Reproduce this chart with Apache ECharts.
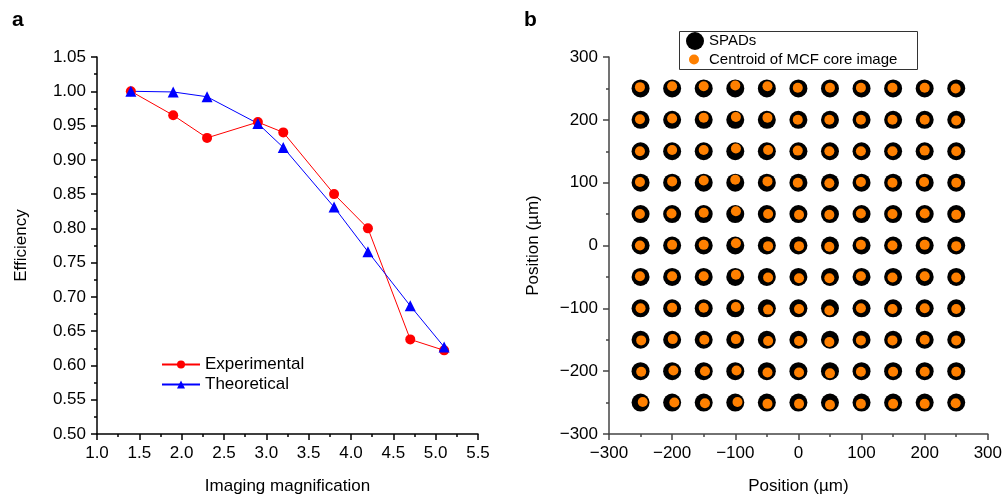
<!DOCTYPE html>
<html style="height: 100%">
<head>
  <meta charset="utf-8" />
  <title>Efficiency and SPAD alignment</title>
  <script src="https://cdn.jsdelivr.net/npm/echarts@6.0.0/dist/echarts.min.js"></script>
</head>
<body style="height: 100%; margin: 0; background: #fff">
  <div id="chart" style="width: 1005px; height: 500px"></div>
  <script>
    // panel a
    const magnification = [1.4, 1.9, 2.3, 2.9, 3.2, 3.8, 4.2, 4.7, 5.1];
    const experimental = [1.0, 0.965, 0.932, 0.955, 0.94, 0.85, 0.80, 0.638, 0.622];
    const theoretical = [1.0, 0.999, 0.992, 0.953, 0.918, 0.831, 0.766, 0.687, 0.627];

    // panel b: SPAD positions (um) and centroid offsets (um), rows top (250) to bottom (-250)
    const spadX = [-250, -200, -150, -100, -50, 0, 50, 100, 150, 200, 250];
    const spadY = [250, 200, 150, 100, 50, 0, -50, -100, -150, -200, -250];
    const offX = [
      [-1, 0, 0, 0, 1, -1, 0, -1, -1, 0, -1],
      [-1, 0, 0, 1, 1, -1, -1, -1, -1, 0, 0],
      [-1, 0, 0, 1, 2, -1, -1, -1, -1, 0, 0],
      [-1, 0, 0, 0, 1, -1, -1, -1, -1, -1, 0],
      [-1, -1, 0, 1, 2, 1, -1, -1, -1, 0, 0],
      [-1, 0, 0, 1, 2, 1, -1, -1, -1, 0, 0],
      [-1, 0, 0, 1, 2, 1, -1, -1, -1, 0, 0],
      [0, 0, 0, 1, 2, 1, -1, -1, -1, 0, 0],
      [1, 1, 1, 1, 2, 1, -1, -1, -1, 0, 0],
      [1, 2, 2, 2, 1, 1, 0, -1, 0, 0, 0],
      [3.5, 3.5, 2, 3.5, 1, 1, 0, -1, 0, 0, -1]
    ];
    const offY = [
      [2, 3.5, 3.5, 4.5, 3.5, 1, 1, 1, 1, 1, 0],
      [1, 2, 3.5, 4.5, 3.5, 0, 0, 0, 0, 0, -1],
      [0, 2, 2, 4.5, 2, 1, 0, 0, 0, 1, 0],
      [1, 2, 3.5, 4.5, 2, 0, -1, 1, 0, 1, 0],
      [0, 1, 2, 4.5, 0, -1, -1, 1, 0, 1, -1],
      [0, 1, 1, 3.5, -1, -1, -2, 1, 0, 1, -1],
      [1, 1, 1, 3.5, -1, -2, -2, 1, -1, 1, -1],
      [0, 1, 1, 2, -2, -1, -3.5, 0, -1, 0, -1],
      [-1, 1, 0, 1, -2, -2, -3.5, -1, -1, 0, -1],
      [-1, 1, 0, 1, -2, -2, -3.5, -1, -1, -1, -1],
      [1, 0, -1, 1, -2, -2, -3.5, -2, -2, -2, -1]
    ];

    const spads = [];
    const centroids = [];
    spadY.forEach((y, r) => {
      spadX.forEach((x, c) => {
        spads.push([x, y]);
        centroids.push([x + offX[r][c], y + offY[r][c]]);
      });
    });

    const font = 'Liberation Sans, Arial, sans-serif';
    const minus = v => String(v).replace('-', '\u2212');

    function axisBase(color) {
      return {
        axisLine: { show: true, onZero: false, lineStyle: { color: color, width: 1.5 } },
        axisTick: { show: true, length: 6, lineStyle: { color: color, width: 1.5 } },
        minorTick: { show: true, splitNumber: 2, length: 3, lineStyle: { color: color, width: 1.5 } },
        splitLine: { show: false },
        axisLabel: { color: '#000', fontSize: 17, fontFamily: font, margin: 11 },
        nameTextStyle: { color: '#000', fontSize: 17, fontFamily: font }
      };
    }

    const chart = echarts.init(document.getElementById('chart'));
    chart.setOption({
      backgroundColor: '#fff',
      animation: false,
      textStyle: { fontFamily: font },
      grid: [
        { left: 97, top: 57, width: 381, height: 380 },
        { left: 609, top: 57, width: 381, height: 380 }
      ],
      xAxis: [
        Object.assign(axisBase('#000'), {
          type: 'value', gridIndex: 0, min: 1.0, max: 5.5, interval: 0.5,
          name: 'Imaging magnification', nameLocation: 'middle', nameGap: 44,
          axisLabel: Object.assign(axisBase('#000').axisLabel, { formatter: v => v.toFixed(1) })
        }),
        Object.assign(axisBase('#444'), {
          type: 'value', gridIndex: 1, min: -300, max: 300, interval: 100,
          name: 'Position (\u00b5m)', nameLocation: 'middle', nameGap: 44,
          axisLabel: Object.assign(axisBase('#444').axisLabel, { formatter: minus })
        })
      ],
      yAxis: [
        Object.assign(axisBase('#000'), {
          type: 'value', gridIndex: 0, min: 0.5, max: 1.05, interval: 0.05,
          name: 'Efficiency', nameLocation: 'middle', nameGap: 67,
          axisLabel: Object.assign(axisBase('#000').axisLabel, { formatter: v => v.toFixed(2) })
        }),
        Object.assign(axisBase('#444'), {
          type: 'value', gridIndex: 1, min: -300, max: 300, interval: 100,
          name: 'Position (\u00b5m)', nameLocation: 'middle', nameGap: 67,
          axisLabel: Object.assign(axisBase('#444').axisLabel, { formatter: minus })
        })
      ],
      legend: [
        {
          data: ['Experimental', 'Theoretical'],
          left: 156, top: 351, orient: 'vertical', itemGap: 3,
          itemWidth: 38, itemHeight: 10,
          textStyle: { fontSize: 17, fontFamily: font, color: '#000' }
        },
        {
          data: [{ name: 'SPADs', icon: 'circle' }],
          left: 686, top: 32, itemWidth: 18, itemHeight: 18, padding: 0,
          textStyle: { fontSize: 15, fontFamily: font, color: '#000' }
        },
        {
          data: [{ name: 'Centroid of MCF core image', icon: 'circle' }],
          left: 689, top: 52, itemWidth: 10, itemHeight: 10, itemGap: 0, padding: 0,
          textStyle: { fontSize: 15, fontFamily: font, color: '#000', padding: [0, 0, 0, 5] }
        }
      ],
      graphic: [
        { type: 'text', left: 12, top: 10, style: { text: 'a', font: 'bold 21px ' + font, fill: '#000' } },
        { type: 'text', left: 524, top: 10, style: { text: 'b', font: 'bold 21px ' + font, fill: '#000' } },
        { type: 'rect', left: 677, top: 29, shape: { width: 238, height: 38 },
          style: { fill: 'none', stroke: '#333', lineWidth: 1 }, z: 10 }
      ],
      series: [
        {
          name: 'Experimental', type: 'line', xAxisIndex: 0, yAxisIndex: 0,
          data: magnification.map((m, i) => [m, experimental[i]]),
          symbol: 'circle', symbolSize: 10,
          lineStyle: { color: '#ff0000', width: 1 },
          itemStyle: { color: '#ff0000' }
        },
        {
          name: 'Theoretical', type: 'line', xAxisIndex: 0, yAxisIndex: 0,
          data: magnification.map((m, i) => [m, theoretical[i]]),
          symbol: 'triangle', symbolSize: 11,
          lineStyle: { color: '#0000ff', width: 1 },
          itemStyle: { color: '#0000ff' }
        },
        {
          name: 'SPADs', type: 'scatter', xAxisIndex: 1, yAxisIndex: 1,
          data: spads, symbol: 'circle', symbolSize: 18,
          itemStyle: { color: '#000', opacity: 1 }
        },
        {
          name: 'Centroid of MCF core image', type: 'scatter', xAxisIndex: 1, yAxisIndex: 1,
          data: centroids, symbol: 'circle', symbolSize: 10,
          itemStyle: { color: '#ff8000', opacity: 1 }
        }
      ]
    });
  </script>
</body>
</html>
